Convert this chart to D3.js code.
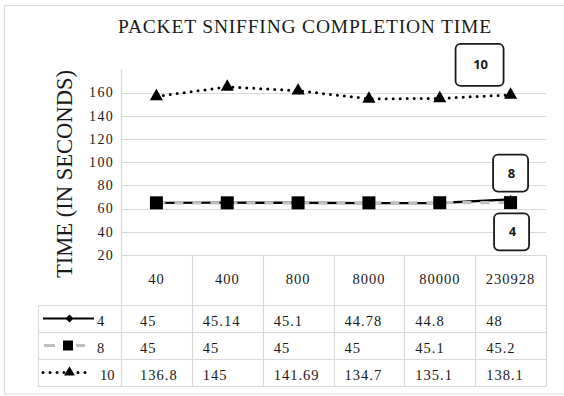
<!DOCTYPE html>
<html>
<head>
<meta charset="utf-8">
<script src="https://cdn.jsdelivr.net/npm/d3@7"></script>
<style>
  body { margin: 0; background: #fff; }
  text { font-family: "Liberation Serif", "Times New Roman", serif; fill: #1a1a1a; }
  .callout text { font-family: "Open Sans", sans-serif; font-weight: bold; }
</style>
</head>
<body>
<script>
var categories = ["40", "400", "800", "8000", "80000", "230928"];
var seriesNames = ["4", "8", "10"];
var values4 = [45, 45.14, 45.1, 44.78, 44.8, 48];
var values8 = [45, 45, 45, 45, 45.1, 45.2];
var values10 = [136.8, 145, 141.69, 134.7, 135.1, 138.1];
// y axis ticks and the labels printed next to them
var tickValues = [0, 20, 40, 60, 80, 100, 120, 140];
var tickLabels = ["20", "40", "60", "80", "100", "120", "140", "160"];

var series = [
    { name: seriesNames[0], values: values4 },
    { name: seriesNames[1], values: values8 },
    { name: seriesNames[2], values: values10 }
];

/******** Layout ********/
const width = 564;
const height = 396;
const plotLeft = 121, plotRight = 546, plotTop = 69.5, plotBottom = 255;
const legendLeft = 38;
const headerBottom = 305, tableBottom = 386;
const gridColor = "#d9d9d9";

var svg = d3.select("body").append("svg")
    .attr("width", width)
    .attr("height", height);

// chart border
svg.append("rect")
    .attr("x", 4.5).attr("y", 5.5)
    .attr("width", 570).attr("height", 388.5)
    .attr("fill", "#fff")
    .attr("stroke", gridColor);

var x = d3.scaleBand()
    .domain(categories)
    .range([plotLeft, plotRight])
    .paddingInner(0).paddingOuter(0);

var y = d3.scaleLinear()
    .domain([0, 160])
    .range([plotBottom, plotTop]);

var rowScale = d3.scaleBand()
    .domain(seriesNames)
    .range([headerBottom, tableBottom]);

var cx = (d, i) => x(categories[i]) + x.bandwidth() / 2;

// horizontal gridlines
svg.append("g").selectAll("line")
    .data(tickValues)
    .enter().append("line")
    .attr("x1", plotLeft).attr("x2", plotRight)
    .attr("y1", d => Math.round(y(d)) + 0.5)
    .attr("y2", d => Math.round(y(d)) + 0.5)
    .attr("stroke", gridColor)
    .attr("stroke-width", 1.2);

// y axis line
svg.append("line")
    .attr("x1", plotLeft + 0.5).attr("x2", plotLeft + 0.5)
    .attr("y1", plotTop).attr("y2", tableBottom)
    .attr("stroke", gridColor).attr("stroke-width", 1.2);

var yAxis = d3.axisLeft(y)
    .tickValues(tickValues)
    .tickFormat((d, i) => tickLabels[i])
    .tickSize(0)
    .tickPadding(7);

var yAxisGroup = svg.append("g")
    .attr("transform", `translate(${plotLeft},0)`)
    .call(yAxis)
    .attr("font-family", null)
    .attr("font-size", null);
yAxisGroup.select(".domain").remove();
yAxisGroup.selectAll("text")
    .attr("dy", "0.3em")
    .style("font-size", "14px")
    .style("letter-spacing", "1.3px")
    .style("fill", "#1a1a1a");

// axis title
svg.append("text")
    .attr("transform", "translate(72,174) rotate(-90)")
    .attr("text-anchor", "middle")
    .attr("textLength", 208)
    .attr("lengthAdjust", "spacingAndGlyphs")
    .style("font-size", "23px")
    .text("TIME (IN SECONDS)");

// title
svg.append("text")
    .attr("x", 305).attr("y", 33)
    .attr("text-anchor", "middle")
    .style("font-size", "19.5px")
    .style("letter-spacing", "0.8px")
    .text("PACKET SNIFFING COMPLETION TIME");

/******** Data table ********/
var table = svg.append("g");

// column separators
table.selectAll(".col-line")
    .data(categories.slice(1).concat(["end"]))
    .enter().append("line")
    .attr("x1", d => d === "end" ? plotRight + 0.5 : Math.round(x(d)) + 0.5)
    .attr("x2", d => d === "end" ? plotRight + 0.5 : Math.round(x(d)) + 0.5)
    .attr("y1", plotBottom).attr("y2", tableBottom)
    .attr("stroke", gridColor).attr("stroke-width", 1.2);

// legend column left edge
table.append("line")
    .attr("x1", legendLeft + 0.5).attr("x2", legendLeft + 0.5)
    .attr("y1", headerBottom).attr("y2", tableBottom)
    .attr("stroke", gridColor).attr("stroke-width", 1.2);

// row separators
table.selectAll(".row-line")
    .data(seriesNames.concat(["end"]))
    .enter().append("line")
    .attr("x1", legendLeft).attr("x2", plotRight)
    .attr("y1", d => d === "end" ? tableBottom + 0.5 : Math.round(rowScale(d)) + 0.5)
    .attr("y2", d => d === "end" ? tableBottom + 0.5 : Math.round(rowScale(d)) + 0.5)
    .attr("stroke", gridColor).attr("stroke-width", 1.2);

// category header
table.selectAll(".cat")
    .data(categories)
    .enter().append("text")
    .attr("x", d => x(d) + x.bandwidth() / 2)
    .attr("y", 284)
    .attr("text-anchor", "middle")
    .style("font-size", "14.5px")
    .style("letter-spacing", "1px")
    .text(d => d);

// values
series.forEach(s => {
    table.selectAll(".val-" + s.name)
        .data(s.values)
        .enter().append("text")
        .attr("x", (d, i) => x(categories[i]) + (i === 0 ? 19 : 11))
        .attr("y", rowScale(s.name) + 21)
        .style("font-size", "14.5px")
        .style("letter-spacing", "1px")
        .text(d => String(d));
});

/******** Lines ********/
var line = d3.line().x(cx).y(d => y(d));

var styles = {
    "4": { stroke: "#000", width: 2.4, dash: null, cap: "butt", symbol: d3.symbolSquare, size: 40, rot: 45, lsize: 32 },
    "8": { stroke: "#bfbfbf", width: 3.2, dash: "9 9", cap: "butt", symbol: d3.symbolSquare, size: 169, rot: 0, lsize: 100 },
    "10": { stroke: "#000", width: 3, dash: "0 7", cap: "round", symbol: d3.symbolTriangle, size: 75, rot: 0, lsize: 50 }
};

series.forEach(s => {
    var st = styles[s.name];
    svg.append("path")
        .datum(s.values)
        .attr("fill", "none")
        .attr("stroke", st.stroke)
        .attr("stroke-width", st.width)
        .attr("stroke-dasharray", st.dash)
        .attr("stroke-linecap", st.cap)
        .attr("d", line);

    svg.selectAll(".m-" + s.name)
        .data(s.values)
        .enter().append("path")
        .attr("d", d3.symbol().type(st.symbol).size(st.size))
        .attr("transform", (d, i) => `translate(${cx(d, i)},${y(d)}) rotate(${st.rot})`)
        .attr("fill", "#000");

    // legend key in the table
    var ry = rowScale(s.name) + rowScale.bandwidth() / 2;
    var lx1 = s.name === "8" ? 44 : 43, lx2 = s.name === "8" ? 85 : (s.name === "4" ? 94 : 92);
    table.append("line")
        .attr("x1", lx1).attr("x2", lx2)
        .attr("y1", ry).attr("y2", ry)
        .attr("stroke", st.stroke)
        .attr("stroke-width", s.name === "4" ? 2 : st.width)
        .attr("stroke-dasharray", s.name === "8" ? "11 21 9" : st.dash)
        .attr("stroke-linecap", st.cap);
    table.append("path")
        .attr("d", d3.symbol().type(st.symbol).size(st.lsize))
        .attr("transform", `translate(${s.name === "8" ? 68 : 69.5},${ry}) rotate(${st.rot})`)
        .attr("fill", "#000");
    table.append("text")
        .attr("x", s.name === "10" ? 100 : 97)
        .attr("y", rowScale(s.name) + 21)
        .style("font-size", "14.5px")
        .text(s.name);
});

/******** Callouts ********/
var last = categories.length - 1;
var lastX = cx(null, last);
var callouts = [
    { label: "10", cx: lastX - 31, top: y(values10[last]) - 51, w: 48, h: 42 },
    { label: "8", cx: lastX, top: y(values8[last]) - 48, w: 35, h: 37 },
    { label: "4", cx: lastX + 1, top: y(values4[last]) + 14, w: 35, h: 37 }
];

var co = svg.selectAll(".callout")
    .data(callouts)
    .enter().append("g")
    .attr("class", "callout");

co.append("rect")
    .attr("x", d => d.cx - d.w / 2)
    .attr("y", d => d.top)
    .attr("width", d => d.w)
    .attr("height", d => d.h)
    .attr("rx", 5)
    .attr("fill", "#fff")
    .attr("stroke", "#1a1a1a")
    .attr("stroke-width", 1.8);

co.append("text")
    .attr("x", d => d.cx + 1)
    .attr("y", d => d.top + d.h / 2 + 4.5)
    .attr("text-anchor", "middle")
    .style("font-size", "13px")
    .text(d => d.label);
</script>
</body>
</html>
